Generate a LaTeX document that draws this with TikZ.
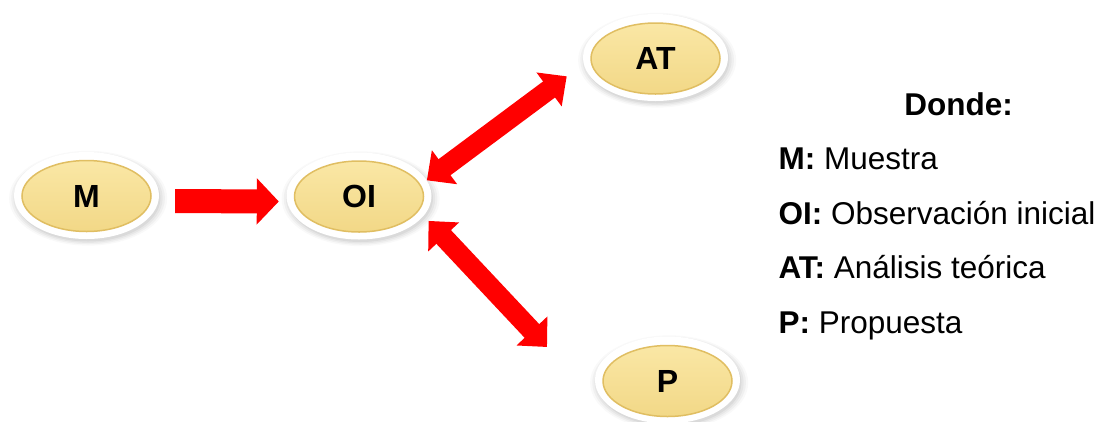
\documentclass[tikz,border=0pt]{standalone}
\usepackage{fontspec}
\setmainfont{Liberation Sans}
\usetikzlibrary{shapes.geometric,arrows.meta,shadows}
\definecolor{goldTop}{HTML}{FAE7A5}
\definecolor{goldBot}{HTML}{F2D887}
\definecolor{goldEdge}{HTML}{E0BE62}
\definecolor{arrowred}{HTML}{FF0000}
\begin{document}
\begin{tikzpicture}[x=1pt,y=-1pt,
  outerell/.style={ellipse, fill=white, minimum width=145pt, minimum height=87pt, inner sep=0pt,
    drop shadow={opacity=0.05, shadow xshift=1.5pt, shadow yshift=-2.5pt, shadow scale=1.09},
    drop shadow={opacity=0.07, shadow xshift=1.5pt, shadow yshift=-2.5pt, shadow scale=1.06},
    drop shadow={opacity=0.09, shadow xshift=1.5pt, shadow yshift=-2.5pt, shadow scale=1.03},
    drop shadow={opacity=0.12, shadow xshift=1.5pt, shadow yshift=-2.5pt, shadow scale=1.0}},
  innerell/.style={ellipse, top color=goldTop, bottom color=goldBot, draw=goldEdge, line width=1.5pt,
    minimum width=129pt, minimum height=71pt, inner sep=0pt, font=\bfseries\fontsize{32}{38}\selectfont},
  onearrow/.style={arrowred, line width=24pt, -{Triangle[width=45pt,length=22pt]}},
  twoarrow/.style={arrowred, line width=20pt, {Triangle[width=41pt,length=22pt]}-{Triangle[width=41pt,length=22pt]}},
  legend/.style={anchor=base west, font=\fontsize{31.5}{38}\selectfont}
]
\useasboundingbox (0,0) rectangle (1099,421);
\clip (0,0) rectangle (1099,421);

% nodes
\node[outerell] (M) at (86.5,195.5) {};
\node[innerell] (Mi) at (86.5,196) {M};
\node[outerell] (OI) at (359,196) {};
\node[innerell] (OIi) at (359,196.5) {OI};
\node[outerell] (AT) at (655.5,57.5) {};
\node[innerell] (ATi) at (655.5,58.5) {AT};
\node[outerell] (P) at (667.5,380) {};
\node[innerell] (Pi) at (667.5,381) {P};

% arrows
\draw[onearrow, shorten <=16pt, shorten >=7.5pt] ([yshift=-5.5pt]M.east) -- ([yshift=-5.5pt]OI.west);
\draw[twoarrow, shorten >=21pt] (OI.13) -- (AT.185);
\coordinate (ptip) at (547,347);
\draw[twoarrow, shorten <=7pt] (OI.-17) -- (ptip);

% legend
\node[anchor=base, font=\bfseries\fontsize{31.5}{38}\selectfont] (donde) at (958.5,115) {Donde:};
\node[legend] (lM) at (775,169) {\textbf{M:} Muestra};
\node[legend] (lOI) at (775,224) {\textbf{OI:} Observación inicial};
\node[legend] (lAT) at (775,278) {\textbf{AT:} Análisis teórica};
\node[legend] (lP) at (775,333) {\textbf{P:} Propuesta};
\end{tikzpicture}
\end{document}
